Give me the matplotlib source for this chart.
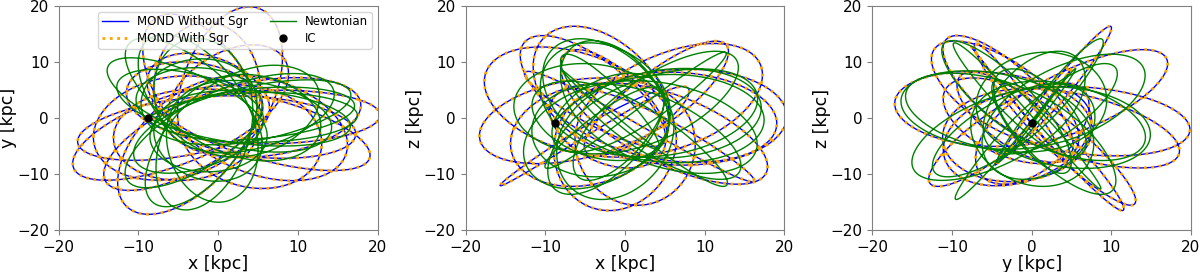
import numpy as np
import matplotlib.pyplot as plt

# ----------------------------------------------------------------
#  Values
# ----------------------------------------------------------------
ic_pos = [-8.8, 0.0, -0.8]          # IC marker (kpc)
ic_vel = [130.0, 140.0, 255.0]      # guessed start velocity (km/s)

# flattened log potential: v0 (km/s), core (kpc), q_y, q_z
mond_pars = [224.0, 1.0, 0.95, 0.9]
newt_pars = [242.0, 2.0, 0.97, 0.9]

t_end = 5.0        # kpc/(km/s)
t_end_sgr = 4.98   # the "with Sgr" run stops a little earlier
n_steps = 25000

panels = [(0, 1, "x [kpc]", "y [kpc]"),
          (0, 2, "x [kpc]", "z [kpc]"),
          (1, 2, "y [kpc]", "z [kpc]")]


# ----------------------------------------------------------------
#  Orbit integration (leapfrog)
# ----------------------------------------------------------------
def accel(pos, pars):
    v0, rc, qy, qz = pars
    x, y, z = pos
    m2 = rc**2 + x**2 + (y / qy)**2 + (z / qz)**2
    return -v0**2 / m2 * np.array([x, y / qy**2, z / qz**2])


def integrate(pos0, vel0, pars, t_max, n):
    dt = t_max / n
    pos = np.array(pos0, dtype=float)
    vel = np.array(vel0, dtype=float)
    out = np.empty((n + 1, 3))
    out[0] = pos
    acc = accel(pos, pars)
    for i in range(n):
        vel += 0.5 * dt * acc
        pos += dt * vel
        acc = accel(pos, pars)
        vel += 0.5 * dt * acc
        out[i + 1] = pos
    return out


mond = integrate(ic_pos, ic_vel, mond_pars, t_end, n_steps)
mond_sgr = integrate(ic_pos, ic_vel, mond_pars, t_end_sgr, int(n_steps * t_end_sgr / t_end))
newt = integrate(ic_pos, ic_vel, newt_pars, t_end, n_steps)

# ----------------------------------------------------------------
#  Plot
# ----------------------------------------------------------------
fig, axes = plt.subplots(1, 3, figsize=(12, 2.72), dpi=100)
fig.subplots_adjust(left=0.049, right=0.9925, top=0.978, bottom=0.154, wspace=0.276)

for ax, (i, j, xl, yl) in zip(axes, panels):
    ax.plot(mond[:, i], mond[:, j], color="blue", lw=1.0, label="MOND Without Sgr")
    ax.plot(mond_sgr[:, i], mond_sgr[:, j], color="orange", lw=2.0, ls=":", label="MOND With Sgr")
    ax.plot(newt[:, i], newt[:, j], color="green", lw=1.0, label="Newtonian")
    ax.plot(ic_pos[i], ic_pos[j], "o", color="black", ms=5, label="IC", ls="none")
    ax.set_xlim(-20, 20)
    ax.set_ylim(-20, 20)
    ax.set_xticks([-20, -10, 0, 10, 20])
    ax.set_yticks([-20, -10, 0, 10, 20])
    ax.set_xlabel(xl, fontsize=12.5, labelpad=0)
    ax.set_ylabel(yl, fontsize=12.5, labelpad=0)
    ax.tick_params(labelsize=11, color="grey")
    for s in ax.spines.values():
        s.set_color("grey")

axes[0].legend(loc="upper right", ncol=2, fontsize=8.5, borderpad=0.3,
               handlelength=2.2, columnspacing=1.8, labelspacing=0.3)

fig.savefig("out.png", dpi=100)
